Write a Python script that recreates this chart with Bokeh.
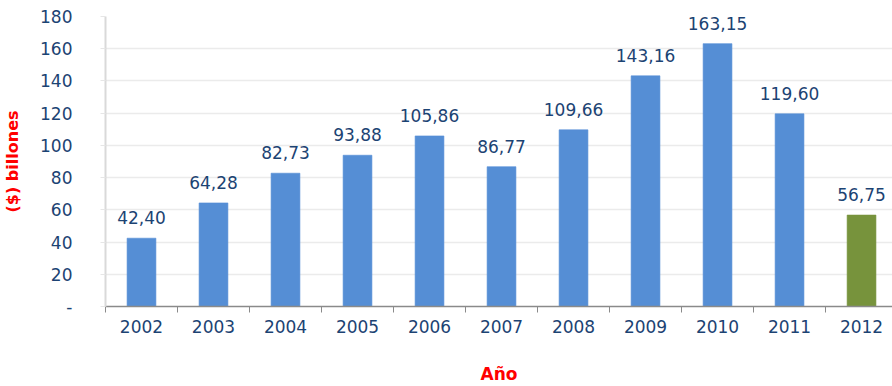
from bokeh.plotting import figure
from bokeh.models import ColumnDataSource, FixedTicker, LabelSet
from bokeh.core.properties import value
from bokeh.embed import file_html
from bokeh.resources import INLINE

years = ["2002", "2003", "2004", "2005", "2006", "2007", "2008", "2009", "2010", "2011", "2012"]
values = [42.40, 64.28, 82.73, 93.88, 105.86, 86.77, 109.66, 143.16, 163.15, 119.60, 56.75]
labels = ["42,40", "64,28", "82,73", "93,88", "105,86", "86,77", "109,66", "143,16", "163,15", "119,60", "56,75"]
colors = ["#558ED5"] * 10 + ["#77933C"]
y_ticks = [0, 20, 40, 60, 80, 100, 120, 140, 160, 180]

TXT = "#1C4373"
FONT = "DejaVu Sans"

xs = list(range(len(years)))
src = ColumnDataSource(dict(x=xs, top=values, lab=labels, color=colors))

p = figure(width=892, height=386, output_backend="svg", toolbar_location=None,
           x_range=(-0.5, 10.43), y_range=(0, 180),
           min_border_left=105, min_border_right=0, min_border_top=16, min_border_bottom=80)
p.outline_line_color = None
p.background_fill_color = "white"
p.border_fill_color = "white"

p.vbar(x="x", top="top", width=0.40, fill_color="color", line_color="color", line_alpha=0.6,
       source=src)

lbl = LabelSet(x="x", y="top", text="lab", source=src, text_align="center",
               text_baseline="alphabetic", y_offset=14, text_color=TXT,
               text_font=value(FONT), text_font_size="17px")
p.add_layout(lbl)

# x axis
p.xaxis.ticker = FixedTicker(ticks=xs, minor_ticks=[i - 0.5 for i in range(len(years) + 1)])
p.xaxis.major_label_overrides = {i: y for i, y in enumerate(years)}
p.xaxis.major_tick_line_color = None
p.xaxis.major_tick_out = 0
p.xaxis.major_tick_in = 0
p.xaxis.minor_tick_out = 6
p.xaxis.minor_tick_in = 0
p.xaxis.minor_tick_line_color = "#8A8A8A"
p.xaxis.axis_line_color = "#8A8A8A"
p.xaxis.axis_line_width = 1.5
p.xaxis.major_label_text_color = TXT
p.xaxis.major_label_text_font = FONT
p.xaxis.major_label_text_font_size = "17px"
p.xaxis.major_label_standoff = 7
p.xaxis.axis_label = "Año"
p.xaxis.axis_label_text_color = "#FF0000"
p.xaxis.axis_label_text_font = FONT
p.xaxis.axis_label_text_font_style = "bold"
p.xaxis.axis_label_text_font_size = "17px"
p.xaxis.axis_label_standoff = 28
p.xgrid.grid_line_color = None

# y axis
p.yaxis.ticker = FixedTicker(ticks=y_ticks, minor_ticks=[])
p.yaxis.major_label_overrides = {0: "-"}
p.yaxis.axis_line_color = "#D9D9D9"
p.yaxis.axis_line_width = 2
p.yaxis.major_tick_line_color = "#E6E6E6"
p.yaxis.major_tick_out = 5
p.yaxis.major_tick_in = 0
p.yaxis.minor_tick_line_color = None
p.yaxis.major_label_text_color = TXT
p.yaxis.major_label_text_font = FONT
p.yaxis.major_label_text_font_size = "17px"
p.yaxis.major_label_standoff = 28
p.yaxis.axis_label = "($) billones"
p.yaxis.axis_label_text_color = "#FF0000"
p.yaxis.axis_label_text_font = FONT
p.yaxis.axis_label_text_font_style = "bold"
p.yaxis.axis_label_text_font_size = "16px"
p.yaxis.axis_label_standoff = 15
p.ygrid.grid_line_color = "#EBEBEB"
p.ygrid.grid_line_width = 1.5

open("out.html", "w").write(file_html(p, INLINE))
